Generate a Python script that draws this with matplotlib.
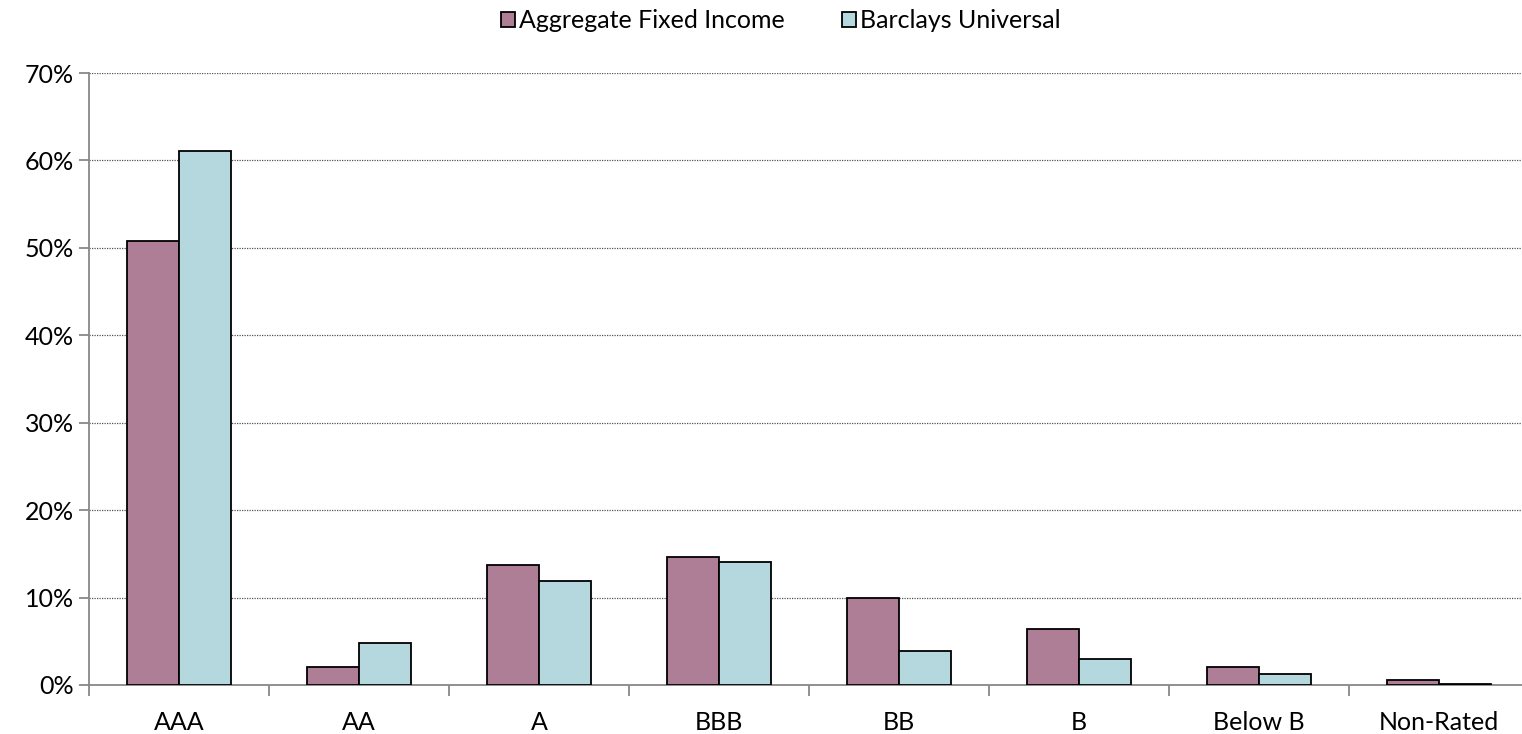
import matplotlib.pyplot as plt
import numpy as np
from matplotlib.ticker import FuncFormatter, MultipleLocator

plt.rcParams['font.family'] = ['Lato', 'DejaVu Sans']

categories = ['AAA', 'AA', 'A', 'BBB', 'BB', 'B', 'Below B', 'Non-Rated']
aggregate = [50.8, 2.0, 13.7, 14.6, 10.0, 6.4, 2.0, 0.55]
barclays = [61.1, 4.8, 11.9, 14.1, 3.9, 3.0, 1.25, 0.1]

fig = plt.figure(figsize=(15.22, 7.34), dpi=100)
ax = fig.add_axes([0.0585, 0.0668, 0.9461, 0.8337])

x = np.arange(len(categories))
w = 0.287
ax.bar(x - w / 2, aggregate, w, color='#AD7E95', edgecolor='black', linewidth=1.3,
       label='Aggregate Fixed Income', zorder=3)
ax.bar(x + w / 2, barclays, w, color='#B4D8DE', edgecolor='black', linewidth=1.3,
       label='Barclays Universal', zorder=3)

ax.set_xlim(-0.5, len(categories) - 0.5)
ax.set_ylim(0, 70)
ax.yaxis.set_major_locator(MultipleLocator(10))
ax.yaxis.set_major_formatter(FuncFormatter(lambda v, p: f'{v:.0f}%'))
ax.grid(axis='y', color='#555555', linestyle=(0, (1, 1)), linewidth=0.9, zorder=0)

ax.set_xticks(x)
ax.set_xticklabels(categories)
ax.set_xticks(np.arange(-0.5, len(categories), 1), minor=True)
ax.tick_params(axis='x', which='major', length=0, pad=19, labelsize=18)
ax.tick_params(axis='x', which='minor', length=8, color='#888888', width=1.3)
ax.tick_params(axis='y', length=7, color='#888888', width=1.3, labelsize=18, pad=4)

for s in ['top', 'right']:
    ax.spines[s].set_visible(False)
for s in ['left', 'bottom']:
    ax.spines[s].set_color('#888888')
    ax.spines[s].set_linewidth(1.3)

fig.legend(loc='upper center', bbox_to_anchor=(0.513, 1.018), ncol=2, frameon=False,
           fontsize=18, handlelength=0.55, handleheight=0.55, handletextpad=0.15,
           columnspacing=2.3)

fig.savefig('out.png', dpi=100)
